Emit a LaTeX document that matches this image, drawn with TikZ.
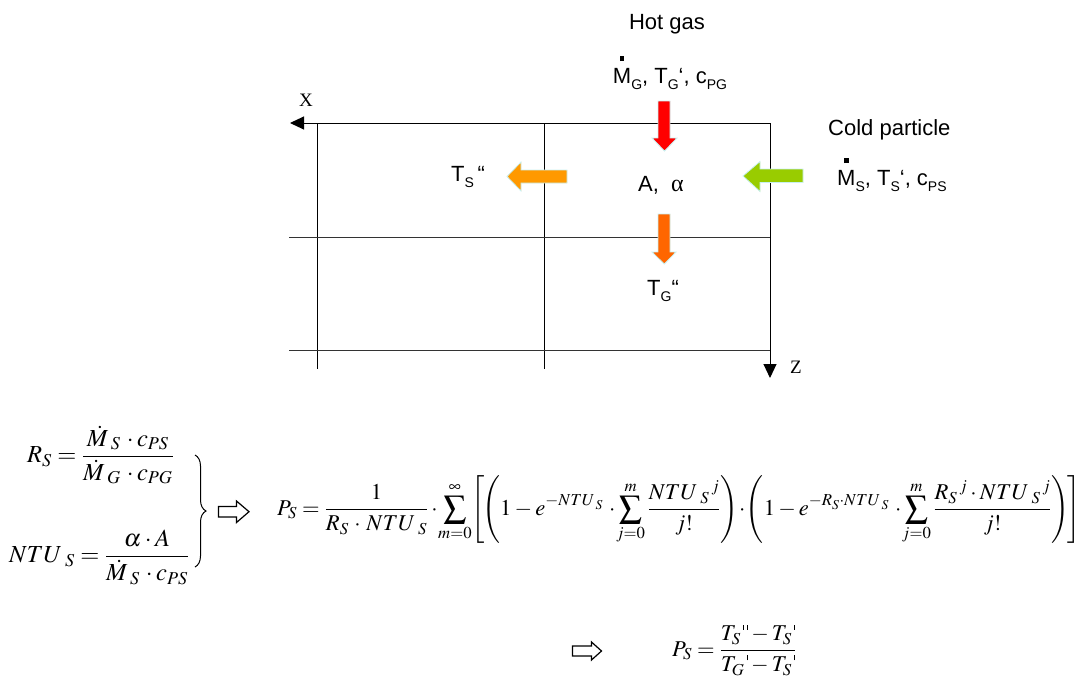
\documentclass[tikz,border=0pt]{standalone}
\usepackage{mathptmx}
\usepackage[no-math]{fontspec}
\setmainfont{Liberation Sans}
\newfontfamily\serifx{Liberation Serif}
\usetikzlibrary{arrows.meta,decorations.pathreplacing}
\newcommand\sub[1]{\raisebox{-0.28em}{\fontsize{14}{14}\selectfont #1}}
\newcommand\Mdot{\leavevmode\hbox{\ooalign{M\cr\hidewidth\raisebox{1.0em}{\rule{0.2em}{0.22em}}\hidewidth\cr}}}
\newcommand\tick{\mbox{\rule[0.5em]{0.05em}{0.22em}}}
\newcommand\ntus{NTU\,{}_S}
\newcommand\ntue{NTU\mkern1mu{}_S}
\definecolor{hotred}{RGB}{255,0,0}
\definecolor{outorange}{RGB}{255,153,0}
\definecolor{gasorange}{RGB}{255,102,0}
\definecolor{coldgreen}{RGB}{153,204,0}
\definecolor{edgecyan}{RGB}{200,240,240}
\begin{document}
\begin{tikzpicture}[x=1pt,y=-1pt,
  txt/.style={inner sep=0pt, font=\fontsize{22}{26}\selectfont},
  serlab/.style={inner sep=0pt, font=\serifx\fontsize{19}{22}\selectfont},
  mathbig/.style={inner sep=0pt, font=\fontsize{24.5}{28}\selectfont},
  mathmain/.style={inner sep=0pt, font=\fontsize{22.6}{27}\selectfont},
  axisline/.style={line width=1pt, -{Triangle[length=14pt,width=13pt]}},
  gridline/.style={line width=1pt},
  blk/.style={draw=edgecyan, line width=0.8pt},
  hollow/.style={draw=black, fill=white, line width=1.2pt, line join=miter}]
\useasboundingbox (0,0) rectangle (1084,683);

% axes and grid
\coordinate (o) at (770,123);
\coordinate (xe) at (290,123);
\coordinate (ze) at (770,378);
\draw[axisline] (o) -- (xe);
\draw[axisline] (o) -- (ze);
\draw[gridline] (317,123) -- (317,369);
\draw[gridline] (544,123) -- (544,369);
\draw[gridline, black!80] (289,237) -- (770,237);
\draw[gridline, black!80] (289,350) -- (770,350);

% block arrows
\filldraw[blk, fill=hotred] (658,101) -- (670,101) -- (670,138) -- (677,138) -- (664.5,151) -- (652,138) -- (658,138) -- cycle;
\filldraw[blk, fill=gasorange] (658,214) -- (670,214) -- (670,252) -- (676,252) -- (664.3,264) -- (652,252) -- (658,252) -- cycle;
\filldraw[blk, fill=outorange] (567,170) -- (567,183) -- (521,183) -- (521,191) -- (507,176.5) -- (521,162) -- (521,170) -- cycle;
\filldraw[blk, fill=coldgreen] (803,169) -- (803,182.5) -- (760,182.5) -- (760,191.5) -- (743,176) -- (760,161.5) -- (760,169) -- cycle;

% labels
\node[txt, anchor=base] (hot) at (667,29) {Hot gas};
\node[txt, anchor=base] (gasin) at (670,83) {\Mdot\sub{G}, T\sub{G}‘, c\sub{PG}};
\node[serlab, anchor=base] (xl) at (306,106) {X};
\node[serlab, anchor=base west] (zl) at (790,373) {Z};
\node[txt, anchor=base west] (tsout) at (451,181) {T\sub{S}\,“};
\node[txt, anchor=base west] (aal) at (638,191) {A,\ \ {\serifx\fontsize{24}{26}\selectfont α}};
\node[txt, anchor=base west] (tgout) at (647,295) {T\sub{G}“};
\node[txt, anchor=base west] (cold) at (828,135) {Cold particle};
\node[txt, anchor=base west] (coldin) at (837,185) {\Mdot\sub{S}, T\sub{S}‘, c\sub{PS}};

% left equations
\node[mathbig, anchor=west] (rs) at (27,455) {$\displaystyle R_S=\frac{\dot M\,{}_S\,\cdot c_{PS}}{\dot M\,{}_G\,\cdot c_{PG}}$};
\node[mathbig, anchor=west] (ntu) at (9,557) {$\displaystyle \ntus=\frac{\alpha\cdot A}{\dot M\,{}_S\,\cdot c_{PS}}$};
\draw[line width=1pt, decorate, decoration={brace, amplitude=11pt}] (195,455) -- (195,567);

% implication arrows
\filldraw[hollow] (218.5,506.5) -- (236.5,506.5) -- (236.5,501) -- (249,511.7) -- (236.5,522.5) -- (236.5,517) -- (218.5,517) -- cycle;
\filldraw[hollow] (572.5,646) -- (591.5,646) -- (591.5,642) -- (601.5,651) -- (591.5,660) -- (591.5,656) -- (572.5,656) -- cycle;

% main formula
\node[mathmain, anchor=west] (ps) at (277,510) {$\displaystyle P_S=\frac{1}{R_S\,\cdot\,\ntus}\cdot\!\sum_{m=0}^{\infty}\!\left[\!\left(1-e^{-\ntue}\,\cdot\!\sum_{j=0}^{m}\frac{\ntus{}^{\,j}}{j!}\right)\!\cdot\!\left(1-e^{-R_S\cdot\ntue}\,\cdot\!\sum_{j=0}^{m}\frac{R_S{}^{\,j}\cdot\ntus{}^{\,j}}{j!}\right)\!\right]$};

% second formula
\node[mathmain, anchor=west] (ps2) at (672,650) {$\displaystyle P_S=\frac{T_S\,\tick\,\tick-T_S\,\tick}{T_G\,\tick-T_S\,\tick}$};
\end{tikzpicture}
\end{document}
